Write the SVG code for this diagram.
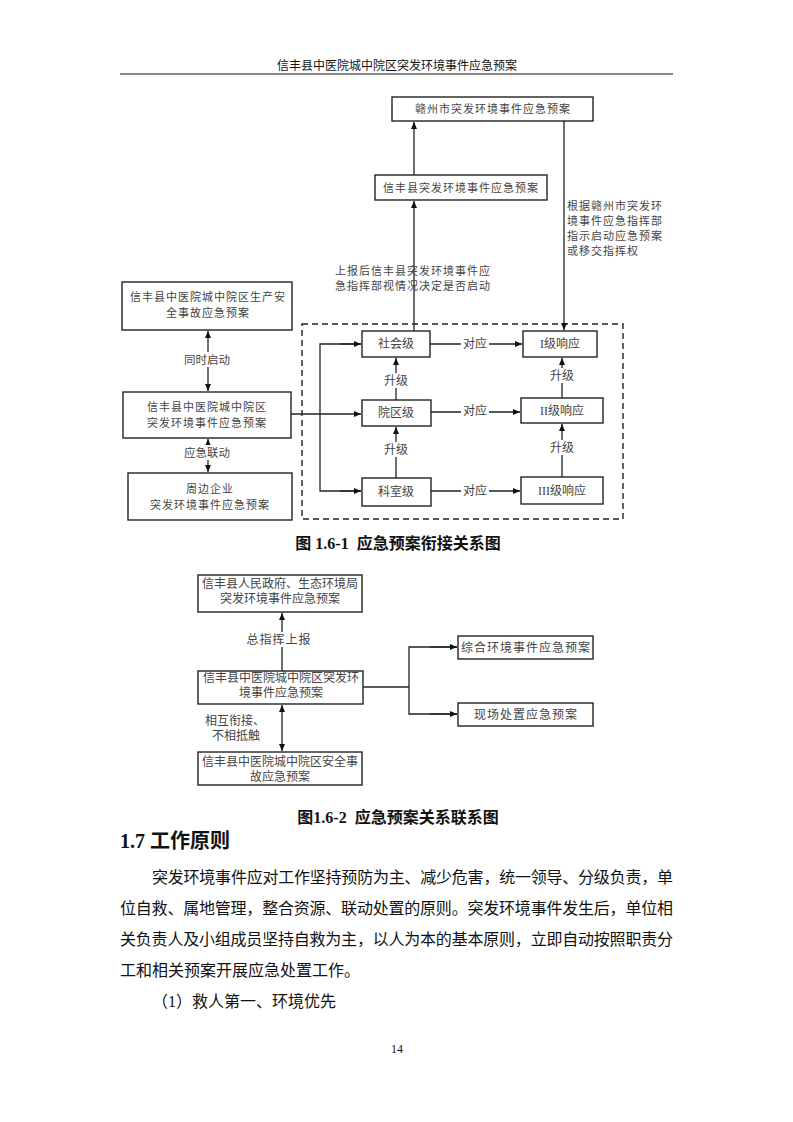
<svg xmlns="http://www.w3.org/2000/svg" width="793" height="1122" viewBox="0 0 793 1122">
<style>
.bg{fill:#fff}
.box{fill:#fff;stroke:#222;stroke-width:1.4}
.ln{fill:none;stroke:#222;stroke-width:1.3}
.dash{fill:none;stroke:#222;stroke-width:1.4;stroke-dasharray:6,4}
.t{font-family:"Liberation Serif","Noto Sans CJK SC",serif;fill:#444;font-size:11px}
.ts{letter-spacing:1px}
.m{text-anchor:middle}
.t2{font-family:"Liberation Serif","Noto Sans CJK SC",serif;fill:#444;font-size:12px}
.cap{font-family:"Liberation Serif","Noto Sans CJK SC",serif;font-weight:bold;font-size:16px;fill:#111;text-anchor:middle;white-space:pre}
.body{font-family:"Liberation Serif","Noto Sans CJK SC",serif;font-size:16px;fill:#111}
</style>
<defs>
<marker id="ah" markerWidth="8" markerHeight="8" refX="7" refY="4" orient="auto" markerUnits="userSpaceOnUse">
<path d="M0,1 L7,4 L0,7 Z" fill="#111"/>
</marker>
<marker id="as" markerWidth="8" markerHeight="8" refX="0" refY="4" orient="auto" markerUnits="userSpaceOnUse">
<path d="M7,1 L0,4 L7,7 Z" fill="#111"/>
</marker>
</defs>
<rect class="bg" x="0" y="0" width="793" height="1122"/>

<g id="header">
<text class="t m" style="font-size:12px;fill:#111" x="397" y="70">信丰县中医院城中院区突发环境事件应急预案</text>
<line x1="120" y1="74" x2="673" y2="74" stroke="#111" stroke-width="1"/>
</g>

<!-- Figure 1.6-1 -->
<g id="connectors1">
<rect class="dash" x="302" y="324" width="321" height="195"/>
<line class="ln" x1="414" y1="175" x2="414" y2="122" marker-end="url(#ah)"/>
<line class="ln" x1="414" y1="331" x2="414" y2="201" marker-end="url(#ah)"/>
<line class="ln" x1="564" y1="121" x2="564" y2="330" marker-end="url(#ah)"/>
<line class="ln" x1="208" y1="331" x2="208" y2="391" marker-start="url(#as)" marker-end="url(#ah)"/>
<line class="ln" x1="208" y1="439" x2="208" y2="472" marker-start="url(#as)" marker-end="url(#ah)"/>
<line class="ln" style="stroke-width:1.6" x1="291" y1="414" x2="361" y2="414" marker-end="url(#ah)"/>
<polyline class="ln" points="361,344 320,344 320,491 361,491" />
<line class="ln" x1="340" y1="344" x2="361" y2="344" marker-end="url(#ah)"/>
<line class="ln" x1="340" y1="491" x2="361" y2="491" marker-end="url(#ah)"/>
<line class="ln" x1="430" y1="344" x2="522" y2="344" marker-end="url(#ah)"/>
<line class="ln" x1="431" y1="412" x2="520" y2="412" marker-end="url(#ah)"/>
<line class="ln" x1="431" y1="491" x2="520" y2="491" marker-end="url(#ah)"/>
<line class="ln" x1="396" y1="400" x2="396" y2="358" marker-end="url(#ah)"/>
<line class="ln" x1="396" y1="478" x2="396" y2="427" marker-end="url(#ah)"/>
<line class="ln" x1="562" y1="398" x2="562" y2="358" marker-end="url(#ah)"/>
<line class="ln" x1="562" y1="477" x2="562" y2="424" marker-end="url(#ah)"/>
<g class="t2 m">
<rect x="461" y="336" width="28" height="15" fill="#fff"/>
<text x="475" y="348">对应</text>
<rect x="461" y="403" width="28" height="15" fill="#fff"/>
<text x="475" y="415">对应</text>
<rect x="461" y="483" width="28" height="15" fill="#fff"/>
<text x="475" y="495">对应</text>
<rect x="382" y="373" width="28" height="15" fill="#fff"/>
<text x="396" y="385">升级</text>
<rect x="382" y="442" width="28" height="15" fill="#fff"/>
<text x="396" y="454">升级</text>
<rect x="548" y="368" width="28" height="15" fill="#fff"/>
<text x="562" y="380">升级</text>
<rect x="548" y="440" width="28" height="15" fill="#fff"/>
<text x="562" y="452">升级</text>
</g>
<g class="t">
<rect x="190" y="352" width="36" height="15" fill="#fff"/>
<text class="m" x="207" y="364" style="font-size:11.5px">同时启动</text>
<rect x="186" y="445" width="44" height="15" fill="#fff"/>
<text class="m" x="207" y="457" style="font-size:11.5px">应急联动</text>
<text class="ts" x="335" y="275">上报后信丰县突发环境事件应</text>
<text class="ts" x="335" y="290">急指挥部视情况决定是否启动</text>
<text class="ts" x="567" y="210">根据赣州市突发环</text>
<text class="ts" x="567" y="225">境事件应急指挥部</text>
<text class="ts" x="567" y="240">指示启动应急预案</text>
<text class="ts" x="567" y="255">或移交指挥权</text>
</g>
</g>

<g id="n_ganzhou">
<rect class="box" x="392" y="97" width="201" height="24"/>
<text class="t ts m" x="493" y="113">赣州市突发环境事件应急预案</text>
</g>
<g id="n_xinfeng">
<rect class="box" x="375" y="175" width="172" height="25"/>
<text class="t ts m" x="461" y="192">信丰县突发环境事件应急预案</text>
</g>
<g id="n_shengchan">
<rect class="box" x="122" y="282" width="170" height="48"/>
<text class="t ts m" x="208" y="301">信丰县中医院城中院区生产安</text>
<text class="t ts m" x="208" y="317">全事故应急预案</text>
</g>
<g id="n_main1">
<rect class="box" x="123" y="392" width="168" height="46"/>
<text class="t ts m" x="207" y="411">信丰县中医院城中院区</text>
<text class="t ts m" x="207" y="427">突发环境事件应急预案</text>
</g>
<g id="n_zhoubian">
<rect class="box" x="128" y="473" width="164" height="47"/>
<text class="t ts m" x="210" y="493">周边企业</text>
<text class="t ts m" x="210" y="509">突发环境事件应急预案</text>
</g>
<g id="n_shehui">
<rect class="box" x="362" y="331" width="68" height="26"/>
<text class="t2 m" x="396" y="348">社会级</text>
</g>
<g id="n_yuanqu">
<rect class="box" x="362" y="400" width="69" height="26"/>
<text class="t2 m" x="396" y="417">院区级</text>
</g>
<g id="n_keshi">
<rect class="box" x="362" y="478" width="69" height="28"/>
<text class="t2 m" x="396" y="496">科室级</text>
</g>
<g id="n_r1">
<rect class="box" x="523" y="331" width="74" height="26"/>
<text class="t2 m" x="560" y="348">I级响应</text>
</g>
<g id="n_r2">
<rect class="box" x="521" y="398" width="82" height="25"/>
<text class="t2 m" x="562" y="415">II级响应</text>
</g>
<g id="n_r3">
<rect class="box" x="521" y="477" width="82" height="27"/>
<text class="t2 m" x="562" y="495">III级响应</text>
</g>

<text class="cap" x="398" y="549" xml:space="preserve">图 1.6-1  应急预案衔接关系图</text>

<!-- Figure 1.6-2 -->
<g id="connectors2">
<line class="ln" x1="282" y1="671" x2="282" y2="613" marker-end="url(#ah)"/>
<line class="ln" x1="282" y1="705" x2="282" y2="751" marker-start="url(#as)" marker-end="url(#ah)"/>
<line class="ln" style="stroke-width:1.6" x1="363" y1="687" x2="409" y2="687"/>
<polyline class="ln" points="457,647 409,647 409,714 457,714"/>
<line class="ln" x1="430" y1="647" x2="457" y2="647" marker-end="url(#ah)"/>
<line class="ln" x1="430" y1="714" x2="457" y2="714" marker-end="url(#ah)"/>
<g class="t2">
<rect x="247" y="632" width="62" height="15" fill="#fff"/>
<text class="m ts" x="279" y="644">总指挥上报</text>
<text x="205" y="725">相互衔接、</text>
<text x="212" y="740">不相抵触</text>
</g>
</g>
<g id="n_gov">
<rect class="box" x="198" y="575" width="164" height="37"/>
<text class="t2 m" x="280" y="588">信丰县人民政府、生态环境局</text>
<text class="t2 m" x="280" y="603">突发环境事件应急预案</text>
</g>
<g id="n_main2">
<rect class="box" x="198" y="671" width="165" height="33"/>
<text class="t2 m" x="281" y="682">信丰县中医院城中院区突发环</text>
<text class="t2 m" x="281" y="697">境事件应急预案</text>
</g>
<g id="n_safety">
<rect class="box" x="198" y="752" width="164" height="33"/>
<text class="t2 m" x="280" y="766">信丰县中医院城中院区安全事</text>
<text class="t2 m" x="280" y="781">故应急预案</text>
</g>
<g id="n_zonghe">
<rect class="box" x="458" y="636" width="135" height="23"/>
<text class="t2 m ts" x="526" y="652">综合环境事件应急预案</text>
</g>
<g id="n_xianchang">
<rect class="box" x="458" y="703" width="135" height="23"/>
<text class="t2 m ts" x="526" y="719">现场处置应急预案</text>
</g>

<text class="cap" x="398" y="823" xml:space="preserve">图1.6-2  应急预案关系联系图</text>

<g id="text">
<text class="body" x="120" y="848" style="font-size:20px;font-weight:bold">1.7 工作原则</text>
<text class="body" x="152" y="883" textLength="521" lengthAdjust="spacing">突发环境事件应对工作坚持预防为主、减少危害，统一领导、分级负责，单</text>
<text class="body" x="120" y="914" textLength="553" lengthAdjust="spacing">位自救、属地管理，整合资源、联动处置的原则。突发环境事件发生后，单位相</text>
<text class="body" x="120" y="945" textLength="553" lengthAdjust="spacing">关负责人及小组成员坚持自救为主，以人为本的基本原则，立即自动按照职责分</text>
<text class="body" x="120" y="976">工和相关预案开展应急处置工作。</text>
<text class="body" x="152" y="1007">（1）救人第一、环境优先</text>
<text class="body m" x="397" y="1053" style="font-size:12px">14</text>
</g>
</svg>
